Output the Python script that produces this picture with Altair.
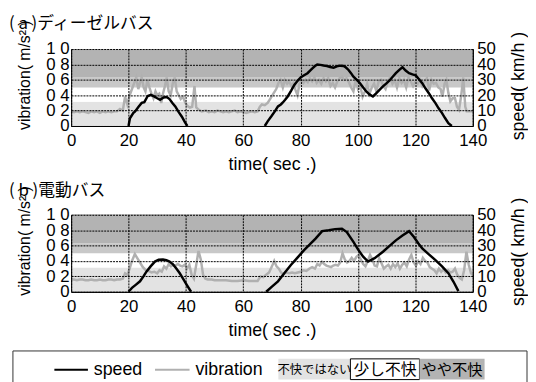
import altair as alt
import pandas as pd

FONT = "Liberation Sans, Arial, Noto Sans CJK JP, sans-serif"
JPFONT = "Noto Sans CJK JP, sans-serif"

X_TICKS = [0, 20, 40, 60, 80, 100, 120, 140]
VIB_TICKS = [0, 0.2, 0.4, 0.6, 0.8, 1.0]
SPEED_TICKS = [0, 10, 20, 30, 40, 50]

BAND_LO = [0, 0.315, 0.5, 0.63]
BAND_HI = [0.315, 0.5, 0.63, 1.0]
BAND_COLOR = ["#e3e3e3", "#ffffff", "#c8c8c8", "#b3b3b3"]

TITLE_A = "( a )ディーゼルバス"
TITLE_B = "( b )電動バス"
LEGEND_PATCH_TEXT = ["不快ではない", "少し不快", "やや不快"]

# ---------- panel (a) diesel bus ----------
A_VIB_T = [0, 1, 2, 3, 4, 5, 6, 7, 8, 9, 10, 11, 12, 13, 14, 15, 16, 17, 18, 18.8, 19.6, 20.4, 21.2, 22,
           22.7, 23.4, 24, 24.6, 25.3, 25.9, 26.6, 27.3, 28, 28.7, 29.4, 30, 30.7, 31.4, 32, 32.7, 33.3,
           34, 34.7, 35.4, 36.1, 36.8, 37.5, 38.2, 39, 39.8, 40.6, 41.4, 42.2, 43, 43.6, 44.5, 45.5, 47,
           48, 49, 50, 51, 52, 53, 54, 55, 56, 57, 58, 59, 60, 61, 62, 63, 64, 65, 65.8, 66.5, 67.5, 68.5,
           69.5, 70.5, 71.5, 72.3, 73, 73.8, 74.5, 75.3, 76, 76.8, 77.5, 78.2, 78.9, 79.6, 80.3, 81, 81.8,
           82.5, 83.2, 84, 84.8, 85.6, 86.4, 87.2, 88, 88.8, 89.6, 90.4, 91.2, 92, 92.8, 93.6, 94.4, 95.2,
           96, 96.8, 97.6, 98.4, 99.2, 100, 100.8, 101.6, 102.4, 103.2, 104, 104.8, 105.6, 106.4, 107.2,
           108, 108.8, 109.6, 110.4, 111.2, 112, 112.8, 113.6, 114.4, 115.2, 116, 116.8, 117.6, 118.4,
           119.2, 120, 120.8, 121.6, 122.4, 123.2, 124, 124.8, 125.6, 126.4, 127.2, 128, 128.8, 129.4,
           130.2, 130.8, 131.5, 132.2, 133, 133.8, 134.5, 135.2, 136, 136.7, 137.4, 137.9, 139, 140]
A_VIB_V = [0.19, 0.18, 0.19, 0.18, 0.19, 0.18, 0.17, 0.19, 0.18, 0.19, 0.17, 0.19, 0.18, 0.19, 0.18, 0.19,
           0.19, 0.22, 0.20, 0.38, 0.28, 0.40, 0.48, 0.56, 0.63, 0.48, 0.56, 0.63, 0.50, 0.45, 0.60, 0.50,
           0.42, 0.36, 0.45, 0.40, 0.42, 0.30, 0.42, 0.52, 0.63, 0.45, 0.40, 0.55, 0.63, 0.45, 0.40, 0.35,
           0.38, 0.30, 0.26, 0.24, 0.25, 0.52, 0.24, 0.21, 0.19, 0.20, 0.18, 0.19, 0.18, 0.20, 0.19, 0.18,
           0.19, 0.18, 0.19, 0.20, 0.18, 0.19, 0.18, 0.17, 0.18, 0.19, 0.18, 0.19, 0.25, 0.28, 0.27, 0.30,
           0.36, 0.42, 0.48, 0.56, 0.60, 0.50, 0.60, 0.55, 0.58, 0.52, 0.56, 0.47, 0.40, 0.55, 0.60, 0.56,
           0.60, 0.57, 0.62, 0.58, 0.63, 0.56, 0.60, 0.55, 0.62, 0.58, 0.62, 0.52, 0.56, 0.50, 0.58, 0.62,
           0.64, 0.60, 0.62, 0.57, 0.50, 0.45, 0.60, 0.48, 0.52, 0.38, 0.45, 0.55, 0.42, 0.50, 0.55, 0.45,
           0.58, 0.60, 0.52, 0.48, 0.58, 0.63, 0.55, 0.60, 0.50, 0.62, 0.56, 0.60, 0.50, 0.63, 0.58, 0.52,
           0.58, 0.55, 0.60, 0.52, 0.58, 0.62, 0.46, 0.60, 0.55, 0.56, 0.50, 0.48, 0.38, 0.55, 0.60, 0.43,
           0.32, 0.36, 0.36, 0.25, 0.21, 0.40, 0.63, 0.25, 0.19, 0.19, 0.19]

A_SPD1_T = [20, 20.5, 21.7, 22.3, 23.5, 24.6, 25.5, 26.7, 27.8, 28.9, 30, 31, 32.2, 33.3, 34.3, 35.3,
            36.3, 37.5, 38.6, 39.5, 40.5]
A_SPD1_V = [0, 5, 8.5, 9.5, 12.5, 15, 15.5, 19.5, 20.2, 19.2, 18, 17, 18.5, 18.8, 17.5, 15, 12.7, 9, 6,
            3, 0]
A_SPD2_T = [67.5, 68.5, 69.8, 71, 72.1, 73.1, 73.8, 74.6, 75.5, 76.7, 77.8, 79, 80.1, 81.2, 82.4, 83.3,
            84.1, 85, 85.8, 86.9, 88, 89.2, 90.3, 91.5, 92.6, 93.8, 95, 95.8, 96.7, 97.5, 98.4, 99.6,
            100.7, 101.8, 102.9, 104, 105.2, 106.4, 107.5, 108.7, 109.8, 111, 112.1, 113.2, 114.4,
            115.5, 116.6, 117.8, 119, 120.1, 121.2, 122.4, 123.5, 124.7, 125.8, 127, 128.1, 129.3,
            130.4, 131.5, 132.7]
A_SPD2_V = [0, 3, 6.3, 9.5, 12.7, 14, 15.3, 17, 19.2, 23, 26.7, 29.5, 31.7, 33, 34.3, 36, 37.5, 39, 40,
            39.7, 39.3, 39, 38.3, 37.8, 38.8, 39.2, 39, 38, 36.4, 34.5, 32.1, 30, 27.8, 25, 22.4, 20.5,
            19.2, 21.3, 23.5, 25.7, 27.5, 29.6, 32, 34.3, 36.5, 38.2, 36, 34.3, 33.5, 32.9, 30.5, 27.8,
            24.5, 21.3, 18, 14.9, 11.5, 8.4, 5, 1.9, 0]

# ---------- panel (b) electric bus ----------
B_VIB_T = [0, 1, 2, 3, 4, 5, 6, 7, 8, 9, 10, 11, 12, 13, 14, 15, 16, 17, 18, 18.8, 19.6, 20.4, 21.2,
           22.2, 23, 24, 25, 26, 27, 28, 29, 30, 30.8, 31.6, 32.4, 33.2, 34, 34.8, 35.6, 36.4, 37.2, 38,
           38.8, 39.6, 40.4, 41.2, 42, 42.8, 43.6, 44.4, 45.2, 46, 46.8, 47.6, 49, 50, 52, 54, 56, 58,
           60, 62, 64, 65, 66, 67, 68, 69, 70, 70.8, 71.6, 72.4, 73.2, 74, 75, 76, 77, 78, 79, 80, 81,
           82, 83, 84, 85, 85.8, 86.6, 87.4, 88.2, 89, 89.8, 90.6, 91.4, 92.2, 93, 93.8, 94.6, 95.4,
           96.2, 97, 97.8, 98.6, 99.4, 100.2, 101, 101.8, 102.6, 103.4, 104.2, 105, 105.8, 106.6, 107.4,
           108.2, 109, 109.8, 110.6, 111.4, 112.2, 113, 113.8, 114.6, 115.4, 116.2, 117, 117.8, 118.6,
           119.4, 120.2, 121, 121.8, 122.6, 123.4, 124.2, 125, 125.8, 126.6, 127.4, 128.2, 129, 129.8,
           130.6, 131.4, 132.2, 133, 133.8, 134.6, 135.4, 136.2, 137, 137.8, 138.6, 139.4, 140]
B_VIB_V = [0.16, 0.16, 0.15, 0.16, 0.16, 0.15, 0.15, 0.16, 0.15, 0.15, 0.16, 0.15, 0.15, 0.16, 0.16,
           0.15, 0.16, 0.16, 0.17, 0.24, 0.22, 0.30, 0.40, 0.49, 0.44, 0.38, 0.32, 0.28, 0.27, 0.25,
           0.26, 0.24, 0.28, 0.26, 0.33, 0.30, 0.36, 0.33, 0.35, 0.34, 0.36, 0.34, 0.33, 0.35, 0.30,
           0.35, 0.22, 0.17, 0.35, 0.53, 0.42, 0.22, 0.17, 0.16, 0.16, 0.15, 0.15, 0.15, 0.14, 0.14,
           0.15, 0.14, 0.14, 0.14, 0.20, 0.19, 0.22, 0.25, 0.33, 0.40, 0.33, 0.30, 0.25, 0.23, 0.25,
           0.24, 0.25, 0.24, 0.25, 0.26, 0.28, 0.27, 0.30, 0.32, 0.30, 0.36, 0.34, 0.39, 0.36, 0.34,
           0.33, 0.32, 0.34, 0.35, 0.34, 0.38, 0.50, 0.42, 0.38, 0.40, 0.44, 0.40, 0.45, 0.48, 0.42,
           0.36, 0.33, 0.40, 0.48, 0.42, 0.34, 0.33, 0.44, 0.37, 0.30, 0.33, 0.35, 0.30, 0.36, 0.32,
           0.37, 0.30, 0.35, 0.38, 0.33, 0.42, 0.48, 0.38, 0.34, 0.40, 0.36, 0.44, 0.40, 0.38, 0.32,
           0.30, 0.28, 0.24, 0.30, 0.26, 0.29, 0.25, 0.28, 0.25, 0.26, 0.30, 0.22, 0.18, 0.16, 0.28,
           0.52, 0.35, 0.24, 0.22]

B_SPD1_T = [20, 21.2, 22.5, 24, 25.2, 26.3, 27.7, 29.2, 30.5, 32, 33.2, 34.3, 35.5, 36.6, 37.8, 38.9,
            40.3, 41.8]
B_SPD1_V = [0, 2.5, 4.5, 6.8, 10, 13.2, 16.5, 19.6, 20.8, 21, 20.5, 19.6, 17.8, 15.3, 12.2, 8.9, 4.5, 0]
B_SPD2_T = [68, 70, 72.1, 74.3, 76.6, 78.9, 81.2, 83.2, 85.2, 87.5, 89.8, 92, 94.4, 96.1, 98.4, 100,
            101.8, 103.5, 105.8, 108.7, 111, 113.2, 115.5, 117.8, 119.5, 121, 122.4, 124.7, 127, 129.3,
            131.5, 133.3, 135]
B_SPD2_V = [0, 3.3, 6.8, 12, 17.4, 22.2, 27, 30.8, 34.5, 39.4, 40, 40.7, 40.9, 38.8, 32.4, 27.5, 22.8,
            19.6, 21.8, 26, 29.8, 33.4, 36.5, 39.4, 35.6, 31.5, 28.1, 24.3, 20.6, 16.5, 12.1, 6.5, 0.4]

W = 407
H = 78

xscale = alt.Scale(domain=[0, 140], nice=False, zero=False)
vscale = alt.Scale(domain=[0, 1], nice=False)
sscale = alt.Scale(domain=[0, 50], nice=False)

GRID_DASH = [2, 1]

x_axis = alt.Axis(values=X_TICKS, grid=True, gridColor="black", gridDash=GRID_DASH, gridWidth=1,
                  ticks=False, tickSize=0, domainColor="black", labelFontSize=17, labelPadding=7,
                  labelFont=FONT, labelColor="black", labelFlush=False, labelOverlap=False,
                  title="time( sec .)", titleFont=FONT, titleFontSize=18, titleFontWeight="normal",
                  titleColor="black", titleY=44, titleBaseline="alphabetic", zindex=1)

v_axis = alt.Axis(orient="left", values=VIB_TICKS, grid=True, gridColor="black", gridDash=GRID_DASH,
                  gridWidth=1, ticks=False, tickSize=0, domainColor="black", labelFontSize=17,
                  labelPadding=2, labelFont=FONT, labelColor="black", labelOverlap=False,
                  labelExpr="datum.value == 0 ? '0' : replace(format(datum.value, '.1f'), '.', ' ')",
                  title="vibration( m/s² )", titleFont=FONT, titleFontSize=16, titleFontWeight="normal",
                  titleColor="black", titleX=-39, titleY=26, titleAngle=270, titleBaseline="bottom",
                  titleAlign="center", zindex=1)

s_axis = alt.Axis(orient="right", values=SPEED_TICKS, grid=False, ticks=False, tickSize=0,
                  domainColor="black", labelFontSize=17, labelPadding=4, labelFont=FONT,
                  labelColor="black", labelOverlap=False, title="speed( km/h )", titleFont=FONT,
                  titleFontSize=18, titleFontWeight="normal", titleColor="black", titleX=55, titleY=37,
                  titleAngle=270, titleBaseline="bottom", titleAlign="center", zindex=1)

one = pd.DataFrame({"k": [0]})


def panel(title_text, vib_t, vib_v, s1t, s1v, s2t, s2v, title_y, legend=False):
    bands_df = pd.DataFrame({"lo": BAND_LO, "hi": BAND_HI, "c": BAND_COLOR,
                             "t0": [X_TICKS[0]] * 4, "t1": [X_TICKS[-1]] * 4})
    bands = alt.Chart(bands_df).mark_rect().encode(
        x=alt.X("t0:Q", scale=xscale, axis=x_axis),
        x2="t1:Q",
        y=alt.Y("lo:Q", scale=vscale, axis=v_axis),
        y2="hi:Q",
        color=alt.Color("c:N", scale=None),
    )
    vib = alt.Chart(pd.DataFrame({"t": vib_t, "v": vib_v})).mark_line(
        color="#b0b0b0", strokeWidth=2.5).encode(
        x=alt.X("t:Q", scale=xscale, axis=x_axis),
        y=alt.Y("v:Q", scale=vscale, axis=None),
    )
    spd_df = pd.DataFrame({"t": s1t + s2t, "s": s1v + s2v,
                           "seg": ["a"] * len(s1t) + ["b"] * len(s2t)})
    spd = alt.Chart(spd_df).mark_line(color="black", strokeWidth=2.5).encode(
        x=alt.X("t:Q", scale=xscale, axis=x_axis),
        y=alt.Y("s:Q", scale=sscale, axis=s_axis),
        detail="seg:N",
    )
    title = alt.Chart(one).mark_text(align="left", baseline="alphabetic", fontSize=17,
                                     font=JPFONT, color="black").encode(
        x=alt.value(-63), y=alt.value(title_y), text=alt.value(title_text))
    layers = [bands, vib, spd, title]
    if legend:
        ly = 157
        box = alt.Chart(one).mark_rect(fill="white", stroke="#333333", strokeWidth=1).encode(
            x=alt.value(-59), x2=alt.value(462), y=alt.value(138), y2=alt.value(176))
        l1 = alt.Chart(one).mark_rule(color="black", strokeWidth=2).encode(
            x=alt.value(-17), x2=alt.value(17), y=alt.value(ly))
        t1 = alt.Chart(one).mark_text(align="left", baseline="middle", fontSize=18, font=FONT,
                                      color="black").encode(
            x=alt.value(23), y=alt.value(ly), text=alt.value("speed"))
        l2 = alt.Chart(one).mark_rule(color="#b0b0b0", strokeWidth=2).encode(
            x=alt.value(85), x2=alt.value(120), y=alt.value(ly))
        t2 = alt.Chart(one).mark_text(align="left", baseline="middle", fontSize=18, font=FONT,
                                      color="black").encode(
            x=alt.value(126), y=alt.value(ly), text=alt.value("vibration"))
        p1 = alt.Chart(one).mark_rect(fill=BAND_COLOR[0]).encode(
            x=alt.value(210), x2=alt.value(283), y=alt.value(146), y2=alt.value(167))
        p2 = alt.Chart(one).mark_rect(fill="white", stroke="black", strokeWidth=1).encode(
            x=alt.value(283), x2=alt.value(353), y=alt.value(146), y2=alt.value(167))
        p3 = alt.Chart(one).mark_rect(fill=BAND_COLOR[3]).encode(
            x=alt.value(353), x2=alt.value(419), y=alt.value(146), y2=alt.value(167))
        pt1 = alt.Chart(one).mark_text(align="center", baseline="middle", fontSize=12.5, font=JPFONT,
                                       color="black").encode(
            x=alt.value(246.5), y=alt.value(ly), text=alt.value(LEGEND_PATCH_TEXT[0]))
        pt2 = alt.Chart(one).mark_text(align="center", baseline="middle", fontSize=16, font=JPFONT,
                                       color="black").encode(
            x=alt.value(318), y=alt.value(ly), text=alt.value(LEGEND_PATCH_TEXT[1]))
        pt3 = alt.Chart(one).mark_text(align="center", baseline="middle", fontSize=15.5, font=JPFONT,
                                       color="black").encode(
            x=alt.value(386), y=alt.value(ly), text=alt.value(LEGEND_PATCH_TEXT[2]))
        layers += [box, l1, t1, l2, t2, p1, p2, p3, pt1, pt2, pt3]
    return alt.layer(*layers).resolve_scale(y="independent").properties(width=W, height=H)


pa = panel(TITLE_A, A_VIB_T, A_VIB_V, A_SPD1_T, A_SPD1_V, A_SPD2_T, A_SPD2_V, -20)
pb = panel(TITLE_B, B_VIB_T, B_VIB_V, B_SPD1_T, B_SPD1_V, B_SPD2_T, B_SPD2_V, -19, legend=True)

chart = alt.vconcat(pa, pb, spacing=7).resolve_scale(x="independent", y="independent").properties(
    padding={"left": 0, "top": 4, "right": 0, "bottom": 0}
).configure(font=FONT).configure_view(stroke="black", strokeWidth=1)

chart.save("out.html", embed_options={"renderer": "svg", "actions": False})
